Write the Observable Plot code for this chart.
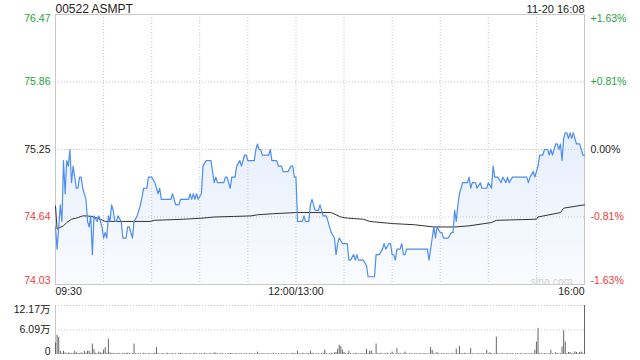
<!DOCTYPE html>
<html><head><meta charset="utf-8">
<script src="https://cdn.jsdelivr.net/npm/d3@7"></script>
<script src="https://cdn.jsdelivr.net/npm/@observablehq/plot@0.6"></script>
<style>
html,body{margin:0;padding:0;background:#fff;}
#chart{position:relative;width:640px;height:360px;overflow:hidden;font-family:"Liberation Sans",Arial,"Noto Sans CJK SC",sans-serif;}
#chart svg{position:absolute;left:0;display:block;}
</style></head><body><div id="chart"></div>
<script>
// ---------- data ----------
const title = "00522 ASMPT";
const stamp = "11-20 16:08";
const prevClose = 75.25;
const yMin = 74.03, yMax = 76.47;
const priceTicks = [76.47, 75.86, 75.25, 74.64, 74.03];
const pctLabels = ["+1.63%", "+0.81%", "0.00%", "-0.81%", "-1.63%"];
const timeTicks = [0, 150, 330];
const timeLabels = ["09:30", "12:00/13:00", "16:00"];
const gridMinutes = [30, 60, 90, 120, 150, 180, 210, 240, 270, 300];
const totalMinutes = 330;

// minute index from 09:30 (lunch break removed)
const priceMin = [0,1,3,4,5,6,7,8,9,10,11,12,13,14,15,16,17,19,20,21,22,23,24,26,27,29,30,31,32,33,34,35,36,37,38,39,41,42,44,45,46,48,49,51,53,55,57,58,60,62,64,65,66,72,73,75,77,78,83,84,85,86,87,88,89,91,92,94,97,98,99,100,101,105,106,107,109,110,112,113,115,116,118,119,120,123,124,125,126,127,128,129,133,134,135,138,139,141,142,145,147,148,149,150,151,154,155,156,158,159,160,161,162,164,165,166,167,169,172,174,175,176,177,179,182,183,184,186,187,188,189,192,194,195,199,200,202,204,205,206,208,209,210,211,212,213,215,216,217,218,219,232,233,235,236,237,238,240,241,242,245,247,248,249,250,251,252,254,257,258,259,260,262,263,265,266,269,270,272,273,274,276,278,279,281,282,283,285,294,295,296,298,299,301,302,304,305,307,308,309,310,312,313,314,315,316,317,318,319,320,321,322,323,324,325,327,329,330];
const priceVal = [74.55,74.35,74.75,74.60,75.15,74.85,75.15,75.10,75.25,74.95,75.10,75.00,74.90,74.90,75.00,75.00,74.90,74.80,74.60,74.55,74.65,74.30,74.65,74.60,74.65,74.55,74.45,74.50,74.45,74.65,74.60,74.75,74.70,74.60,74.60,74.65,74.60,74.45,74.45,74.55,74.55,74.45,74.60,74.65,74.75,74.90,74.90,75.00,75.00,74.95,74.85,74.90,74.80,74.80,74.85,74.75,74.75,74.80,74.80,74.85,74.80,74.85,74.80,74.85,74.80,74.85,75.10,75.15,75.15,75.05,74.95,75.00,74.95,74.95,75.00,75.00,74.90,75.00,75.00,75.10,75.15,75.10,75.20,75.20,75.15,75.15,75.15,75.25,75.30,75.25,75.25,75.20,75.20,75.25,75.15,75.15,75.10,75.10,75.05,75.05,75.10,75.10,75.00,75.00,74.60,74.60,74.65,74.60,74.60,74.75,74.80,74.75,74.70,74.70,74.75,74.70,74.65,74.65,74.50,74.45,74.30,74.40,74.45,74.40,74.40,74.25,74.25,74.30,74.25,74.30,74.25,74.25,74.20,74.10,74.10,74.30,74.30,74.35,74.40,74.35,74.40,74.40,74.30,74.30,74.25,74.35,74.35,74.40,74.30,74.30,74.35,74.35,74.25,74.45,74.55,74.45,74.55,74.50,74.50,74.45,74.45,74.50,74.50,74.70,74.60,74.75,74.85,74.95,74.95,75.00,74.90,74.95,74.95,74.90,74.95,74.90,74.90,74.95,74.90,75.10,75.00,75.00,74.95,75.00,74.95,75.00,74.95,75.00,75.00,74.95,75.00,75.05,75.00,75.10,75.20,75.20,75.25,75.25,75.20,75.25,75.20,75.30,75.30,75.25,75.30,75.15,75.35,75.40,75.40,75.35,75.40,75.35,75.40,75.35,75.30,75.30,75.20,75.20];

const avgMin = [0,1,2,5,7,10,13,17,20,24,28,31,39,49,59,62,80,92,99,111,122,126,136,150,172,175,178,182,192,196,203,211,224,236,249,258,272,275,300,301,315,317,330];
const avgVal = [74.74,74.53,74.54,74.56,74.59,74.62,74.63,74.65,74.65,74.64,74.62,74.60,74.60,74.60,74.60,74.61,74.62,74.63,74.64,74.645,74.65,74.66,74.67,74.68,74.68,74.66,74.64,74.63,74.62,74.60,74.59,74.58,74.57,74.55,74.55,74.56,74.59,74.61,74.62,74.64,74.68,74.72,74.75];

// volume per minute, in 万 shares
const volWan = [
2.9,4.8,4.2,0.8,0.3,0.8,0.4,0.2,0.4,0.3,0.2,0.3,0.8,0.4,0.3,0.2,0.4,0.2,0.8,0.3,0.8,0.8,0.3,2.6,1.2,0.3,0.2,0.6,0.4,0.3,
1.1,1.7,0.3,3.8,0.4,0.2,0.3,0.2,0.2,0.3,0.2,0.1,0.3,0.2,0.2,0.3,0.2,0.1,0.2,2.6,0.2,0.1,0.2,0.2,0.1,0.3,0.2,0.1,0.2,0.2,
0.1,0.2,0.3,1.7,0.2,0.1,0.2,0.2,0.1,0.2,0.3,0.1,0.2,0.2,0.1,0.2,0.1,0.2,0.3,0.2,0.1,0.2,0.2,0.1,0.2,0.1,0.2,0.3,0.2,0.1,
0.2,0.2,0.1,0.3,0.2,0.1,0.2,0.2,0.1,0.4,0.3,0.2,0.1,0.2,0.2,0.1,0.2,0.1,0.2,0.3,0.2,0.1,0.2,0.2,0.1,0.2,0.2,0.1,0.2,0.2,
0.1,0.2,0.2,0.1,0.2,0.2,0.6,0.2,0.1,0.2,0.2,0.1,0.2,0.2,0.1,0.2,0.3,0.1,0.2,0.2,0.1,0.2,0.2,0.1,0.2,0.2,0.1,0.2,0.3,0.2,
0.2,0.8,0.2,0.1,0.3,0.2,0.1,0.3,0.2,0.8,0.3,0.2,0.1,0.2,0.2,0.1,0.2,0.3,1.1,0.2,0.1,0.2,0.3,0.2,0.4,0.5,1.3,2.3,2.0,1.1,
0.5,0.2,0.2,0.8,0.2,0.1,0.2,0.3,0.2,0.1,0.2,0.2,0.1,0.2,1.3,0.2,0.8,0.9,0.2,0.1,2.6,0.2,0.2,0.3,0.1,0.2,0.2,0.3,0.1,0.2,
0.6,0.2,0.1,1.5,0.2,0.3,0.1,0.2,0.6,0.2,0.1,0.2,0.2,0.1,0.2,0.2,0.1,0.2,0.2,0.1,0.2,0.2,0.1,0.2,1.7,1.0,0.2,0.1,0.5,0.2,
0.1,0.2,0.2,0.1,0.2,0.2,0.1,0.2,0.2,0.1,1.3,0.2,2.0,0.2,0.2,0.3,0.2,0.1,0.2,1.45,0.2,0.2,0.1,0.2,0.2,0.1,0.2,0.2,0.1,1.05,
0.2,0.4,0.2,0.1,0.2,4.3,0.2,0.1,0.2,0.2,0.1,0.2,0.2,0.1,0.2,0.2,0.1,0.2,0.2,0.1,0.2,0.2,0.1,0.2,0.2,0.1,0.2,0.2,0.1,1.05,
3.1,6.5,0.2,0.2,0.1,0.2,0.2,0.1,0.2,1.05,0.2,0.1,0.5,0.2,0.2,0.2,1.9,5.9,3.1,0.2,0.5,0.5,0.2,0.2,0.65,0.5,0.2,0.5,0.6,0.3,
12.17];
const volTicks = [12.17, 6.09, 0];
const volLabels = ["12.17万", "6.09万", "0"];

// ---------- styles ----------
const GREEN = "#1fa33a", RED = "#ee3b3b", DARK = "#222";
const LINE = "#4d8ef0", GRID = "#c8c8c8";
const FONT = '"Liberation Sans", Arial, "Noto Sans CJK SC", sans-serif';
const FS = 10.5;

const price = priceMin.map((m, i) => ({m, p: priceVal[i]}));
const avg = avgMin.map((m, i) => ({m, p: avgVal[i]}));
const vols = volWan.map((v, m) => ({m, v}));
const ticks = priceTicks.map((v, i) => ({
  v, label: v.toFixed(2), pct: pctLabels[i],
  color: v > prevClose + 1e-9 ? GREEN : v < prevClose - 1e-9 ? RED : DARK,
  pos: i === 0 ? "top" : i === priceTicks.length - 1 ? "bottom" : "middle"
}));

const gradient = () => {
  const defs = d3.create("svg:defs");
  const g = defs.append("linearGradient").attr("id", "areaGrad")
    .attr("gradientUnits", "userSpaceOnUse").attr("x1", 0).attr("y1", 14).attr("x2", 0).attr("y2", 284);
  g.append("stop").attr("offset", "0%").attr("stop-color", "#3d7fe8").attr("stop-opacity", 0.2);
  g.append("stop").attr("offset", "100%").attr("stop-color", "#3d7fe8").attr("stop-opacity", 0.03);
  return defs.node();
};

const sideLabels = (side) => ["top", "middle", "bottom"].map(pos =>
  Plot.text(ticks.filter(d => d.pos === pos), {
    y: "v", text: side === "left" ? "label" : "pct", fill: "color",
    frameAnchor: side, textAnchor: side === "left" ? "end" : "start",
    dx: side === "left" ? -5 : 6, lineAnchor: pos, dy: pos === "top" ? 0 : pos === "bottom" ? -1 : 0,
    fontSize: FS
  }));

const anchors = ["start", "middle", "end"];
const timeMarks = timeTicks.map((t, i) => Plot.text([timeLabels[i]], {
  x: () => t, text: d => d, frameAnchor: "bottom", lineAnchor: "top", dy: 3,
  textAnchor: anchors[i], fill: DARK, fontSize: FS
}));

const pricePlot = Plot.plot({
  width: 640, height: 300,
  marginTop: 14, marginBottom: 16, marginLeft: 55, marginRight: 56,
  x: {domain: [0, totalMinutes], axis: null},
  y: {domain: [yMin, yMax], axis: null},
  color: {type: "identity"},
  style: {fontFamily: FONT, fontSize: FS + "px", background: "#fff", overflow: "visible"},
  marks: [
    gradient,
    Plot.areaY(price, {x: "m", y1: () => yMin, y2: "p", fill: "url(#areaGrad)"}),
    Plot.ruleX(gridMinutes, {stroke: GRID, strokeDasharray: "1,2"}),
    Plot.ruleY(priceTicks.slice(1, -1), {stroke: GRID, strokeDasharray: "1,2"}),
    Plot.frame({stroke: GRID}),
    Plot.line(avg, {x: "m", y: "p", stroke: "#333", strokeWidth: 1}),
    Plot.line(price, {x: "m", y: "p", stroke: LINE, strokeWidth: 1.2}),
    ...sideLabels("left"),
    ...sideLabels("right"),
    ...timeMarks,
    Plot.text([title], {text: d => d, frameAnchor: "top-left", textAnchor: "start", lineAnchor: "bottom", dy: -2, fontSize: 12, fill: DARK}),
    Plot.text([stamp], {text: d => d, frameAnchor: "top-right", textAnchor: "end", lineAnchor: "bottom", dy: -2, fontSize: 11, fill: DARK}),
    Plot.text(["sina.com"], {text: d => d, frameAnchor: "bottom-right", textAnchor: "end", lineAnchor: "bottom", dx: -12, dy: 0, fontSize: 10.5, fill: "#d0d0d0"})
  ]
});

const volPos = ["top", "middle", "bottom"];
const volPlot = Plot.plot({
  width: 640, height: 60,
  marginTop: 5, marginBottom: 6, marginLeft: 55, marginRight: 56,
  x: {domain: [0, totalMinutes], axis: null},
  y: {domain: [0, volTicks[0]], axis: null},
  style: {fontFamily: FONT, fontSize: FS + "px", background: "transparent", overflow: "visible"},
  marks: [
    Plot.ruleY(volTicks.slice(0, 2), {stroke: GRID, strokeDasharray: "1,2"}),
    Plot.ruleX([0], {stroke: GRID}),
    Plot.ruleX(vols, {x: "m", y1: () => 0, y2: "v", stroke: "#666", strokeWidth: 1}),
    ...volTicks.map((v, i) => Plot.text([volLabels[i]], {
      y: () => v, text: d => d, frameAnchor: "left", textAnchor: "end", dx: -5,
      lineAnchor: volPos[i], fill: DARK, fontSize: FS
    }))
  ]
});

const root = document.getElementById("chart");
pricePlot.style.top = "0px";
volPlot.style.top = "300px";
root.appendChild(pricePlot);
root.appendChild(volPlot);
</script></body></html>
